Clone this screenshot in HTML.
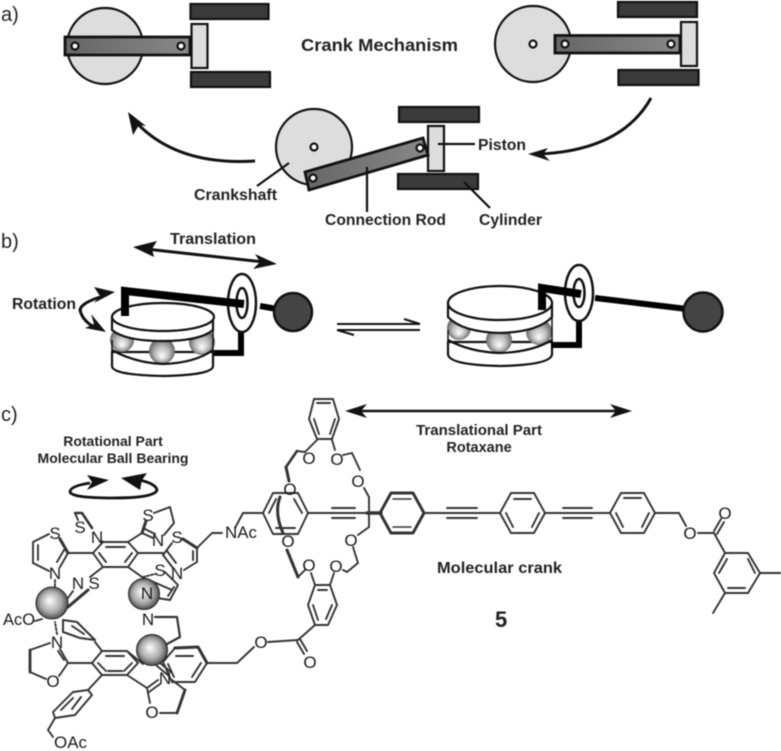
<!DOCTYPE html>
<html><head><meta charset="utf-8"><style>
html,body{margin:0;padding:0;background:#fff}
svg{display:block;filter:blur(.55px)}
text{font-family:"Liberation Sans",sans-serif;font-weight:700;fill:#222;font-size:16px}
.r{font-weight:400;font-size:20px}
.m{font-size:17px;font-weight:400;fill:#1a1a1a;text-anchor:middle}
.l{font-size:17px;font-weight:400;fill:#1a1a1a}
</style></head><body>
<svg width="781" height="751" viewBox="0 0 781 751" xmlns="http://www.w3.org/2000/svg">
<defs>
<linearGradient id="rod" x1="0" x2="1" y1="0" y2="0"><stop offset="0" stop-color="#666"/><stop offset="1" stop-color="#888"/></linearGradient>
<radialGradient id="b1" cx=".5" cy=".5" r=".55" fx=".5" fy=".72"><stop offset="0" stop-color="#fff"/><stop offset=".5" stop-color="#bbb"/><stop offset="1" stop-color="#555"/></radialGradient>
<radialGradient id="b2" cx=".5" cy=".5" r=".6" fx=".42" fy=".42"><stop offset="0" stop-color="#fff"/><stop offset=".55" stop-color="#aaa"/><stop offset="1" stop-color="#222"/></radialGradient>
</defs>

<!-- panel a -->
<text class="r" x="1" y="21">a)</text>
<text class="r" x="1" y="248">b)</text>
<text class="r" x="1" y="421">c)</text>
<g stroke="#111" stroke-width="2.2">
<circle cx="105" cy="46" r="38" fill="#ddd"/>
<rect x="190.500" y="4" width="78" height="15" fill="#3b3b3b"/>
<rect x="191" y="72" width="79" height="15" fill="#3b3b3b"/>
<rect x="191.500" y="24" width="16" height="44" fill="#ddd"/>
<rect x="65" y="37" width="125" height="18" fill="url(#rod)" stroke-width="2.800"/>
<circle cx="75" cy="46" r="3.500" fill="#fff"/><circle cx="181" cy="46" r="3.500" fill="#fff"/>

<circle cx="533" cy="44" r="38" fill="#ddd"/>
<rect x="618" y="2" width="79" height="15" fill="#3b3b3b"/>
<rect x="618.500" y="70" width="80" height="15" fill="#3b3b3b"/>
<rect x="681" y="22" width="16" height="44" fill="#ddd"/>
<rect x="555" y="35.500" width="125" height="17.500" fill="url(#rod)" stroke-width="2.800"/>
<circle cx="533" cy="44" r="3.500" fill="#fff"/><circle cx="565" cy="44" r="3.500" fill="#fff"/><circle cx="671" cy="44" r="3.500" fill="#fff"/>

<circle cx="314" cy="147" r="38" fill="#ddd"/>
<rect x="399" y="107" width="80" height="15" fill="#3b3b3b"/>
<rect x="398" y="174" width="80" height="15" fill="#3b3b3b"/>
<rect x="428" y="126" width="16" height="45" fill="#ddd"/>
<polygon points="305,172 423,138 428,155 309,190" fill="url(#rod)" stroke-width="2.800"/>
<circle cx="314" cy="147" r="3.500" fill="#fff"/><circle cx="313" cy="178" r="3.500" fill="#fff"/><circle cx="420" cy="148" r="3.500" fill="#fff"/>
</g>
<g stroke="#111" stroke-width="2.200" fill="none">
<path d="M257,186 L289,163"/><path d="M367,167 L367,212"/><path d="M438,144 L475,144"/><path d="M464,182 L490,208"/>
<path stroke-width="3" d="M255,161 Q175,166 134,120"/>
<path stroke-width="3" d="M651,98 Q622,150 540,154"/>
</g>
<polygon points="128,112 146,126 139,125 133,135" fill="#111"/>
<polygon points="528,154 548,148 543,154 550,161" fill="#111"/>
<text x="301" y="51" style="font-size:17.500px" textLength="157" lengthAdjust="spacingAndGlyphs">Crank Mechanism</text>
<text x="478" y="150" textLength="48" lengthAdjust="spacingAndGlyphs">Piston</text>
<text x="194" y="200" textLength="83" lengthAdjust="spacingAndGlyphs">Crankshaft</text>
<text x="325" y="225" textLength="121" lengthAdjust="spacingAndGlyphs">Connection Rod</text>
<text x="479" y="225" textLength="63" lengthAdjust="spacingAndGlyphs">Cylinder</text>

<!-- panel b -->
<text x="170" y="244" textLength="86" lengthAdjust="spacingAndGlyphs">Translation</text>
<text x="12" y="309" textLength="64" lengthAdjust="spacingAndGlyphs">Rotation</text>
<g stroke="#111" stroke-width="3" fill="none">
<path d="M146,249 L264,262"/>
<path d="M100,297 Q76,305 81,313"/><path d="M81,313 Q84,322 96,328"/>
</g>
<polygon points="133,247 157,241 152,249 154,257" fill="#111"/>
<polygon points="277,264 255,254 260,262 253,269" fill="#111"/>
<polygon points="115,292 94,287 100,296 94,303" fill="#111"/>
<polygon points="106,332 85,328 94,324 91,314" fill="#111"/>

<!-- left bearing -->
<g stroke="#111" stroke-width="2.200">
<path d="M112,352 V366 Q112,375 163,376 Q213,375 213,366 V352 Z" fill="#fff"/>
<circle cx="122" cy="340" r="12" fill="url(#b1)" stroke="none"/><circle cx="202" cy="342" r="13" fill="url(#b1)" stroke="none"/><circle cx="162" cy="351" r="13" fill="url(#b1)" stroke="none"/>
<path d="M112,350 Q135,363 163,364 Q195,363 213,350" fill="none"/>
<path d="M112,317 V330 Q125,341 163,341 Q200,341 213,330 V317 Z" fill="#fff"/>
<ellipse cx="163" cy="317" rx="51" ry="14" fill="#fff"/>
<path d="M112,340 V366 M213,330 V366" fill="none" stroke-width="1.500"/>
</g>
<g fill="none" stroke="#000">
<path d="M241,332 V353 H214" stroke-width="6"/>
<ellipse cx="242" cy="303" rx="14" ry="29" fill="#fff" stroke="#111" stroke-width="2.500"/>
<ellipse cx="242" cy="303" rx="5.500" ry="15" fill="#fff" stroke="#111" stroke-width="2.500"/>
<path d="M125,316 V291 L244,304" stroke-width="8"/>
<path d="M260,306 L277,309" stroke-width="6"/>
</g>
<circle cx="293" cy="312" r="19" fill="#444" stroke="#111" stroke-width="2.500"/>

<!-- equilibrium -->
<g stroke="#111" stroke-width="2" fill="none">
<path d="M337,324 H420"/><path d="M337,330 H420"/>
</g>
<path d="M404,319 L420,324" stroke="#111" stroke-width="2"/>
<path d="M354,335 L337,330" stroke="#111" stroke-width="2"/>

<!-- right bearing -->
<g stroke="#111" stroke-width="2.200">
<path d="M448,342 V354 Q448,365 500,366 Q552,365 552,354 V342 Z" fill="#fff"/>
<circle cx="459" cy="328" r="12" fill="url(#b1)" stroke="none"/><circle cx="539" cy="332" r="13" fill="url(#b1)" stroke="none"/><circle cx="499" cy="340" r="13" fill="url(#b1)" stroke="none"/>
<path d="M448,340 Q470,352 500,353 Q532,352 552,340" fill="none"/>
<path d="M448,303 V317 Q462,332 500,333 Q538,332 552,317 V303 Z" fill="#fff"/>
<ellipse cx="500" cy="303" rx="52" ry="17" fill="#fff"/>
<path d="M448,330 V354 M552,317 V354" fill="none" stroke-width="1.500"/>
</g>
<g fill="none" stroke="#000">
<path d="M579,322 V345 H551" stroke-width="6"/>
<ellipse cx="579" cy="293" rx="14" ry="28" fill="#fff" stroke="#111" stroke-width="2.500"/>
<ellipse cx="579" cy="293" rx="5.500" ry="14" fill="#fff" stroke="#111" stroke-width="2.500"/>
<path d="M542,310 V288 L581,294" stroke-width="8"/>
<path d="M595,298 L687,309" stroke-width="6"/>
</g>
<circle cx="703" cy="312" r="19.500" fill="#444" stroke="#111" stroke-width="2.500"/>

<!-- panel c labels -->
<path d="M358,411 H620" stroke="#111" stroke-width="2.500"/>
<polygon points="345,411 367,404 361,411 367,418" fill="#111"/>
<polygon points="632,411 610,404 616,411 610,418" fill="#111"/>
<text x="479" y="435" text-anchor="middle" style="font-size:15px">Translational Part</text>
<text x="479" y="452" text-anchor="middle" style="font-size:14.500px">Rotaxane</text>
<text x="113" y="446" text-anchor="middle" style="font-size:14px">Rotational Part</text>
<text x="113" y="463" text-anchor="middle" style="font-size:14px">Molecular Ball Bearing</text>
<text x="437" y="573" textLength="125" lengthAdjust="spacingAndGlyphs">Molecular crank</text>
<text x="495" y="627" style="font-size:22px">5</text>
<g fill="none" stroke="#111" stroke-width="2.800">
<path d="M90,483 Q70,486 70,492 Q72,498 113,498 Q155,498 157,490 Q156,484 140,480"/>
</g>
<polygon points="109,480 87,475 92,482 87,490" fill="#111"/>
<polygon points="121,478 147,473 142,480 140,490" fill="#111"/>

<!-- molecule: bonds -->
<g fill="none" stroke="#333" stroke-width="1.900" stroke-linejoin="round" stroke-linecap="round">
<!-- top catechol -->
<path d="M314,399 H333 L339,419 L332,439 H317 L309,419 Z"/>
<path d="M317,403 H330 M314,419 L319,434 M335,419 L330,434"/>
<path d="M317,440 L305,452 M332,440 L335,450"/>
<path d="M305,452 L297,451"/><path d="M297,451 L286,467" stroke-width="2.600"/><path d="M286,467 L289,481" stroke-width="3"/>
<path d="M343,455 L352,453 L360,470"/><path d="M364,488 L369,497 V527 L358,535"/>
<!-- central ring -->
<path d="M263,513 L273,493 H298 L308,513 L298,534 H273 Z"/>
<path d="M269,513 L276,499 M294,499 L302,513 M276,528 H295"/>
<path d="M280,497 Q274,513 283,533" stroke-width="3"/>
<path d="M263,513 H243 L235,528"/>
<path d="M308,513 H367"/><path d="M332,508 H355 M332,518 H355"/>
<path d="M367,513 H381" stroke-width="3.400"/>
<!-- right macrocycle side -->
<path d="M353,547 L358,563 L347,572 L343,570"/>
<!-- left lower -->
<path d="M287,550 L298,577" stroke-width="3"/><path d="M298,577 L305,570"/>
<!-- lower catechol -->
<path d="M315,585 H330 L337,605 L328,625 H315 L308,605 Z"/>
<path d="M318,590 H327 M313,605 L318,620 M332,605 L326,619"/>
<path d="M311,573 L315,585 M334,573 L330,585"/>
<path d="M315,625 L298,640"/><path d="M298,640 L268,642"/><path d="M297,642 L304,654 M300,639 L307,651"/>
<path d="M254,647 L237,663 H208"/>
<!-- thick ring -->
<path d="M380,513 L391,493 H413 L424,513 L413,533 H391 Z" stroke-width="2.900"/>
<path d="M393,499 H411 M393,527 H411" stroke-width="1.500"/>
<!-- triple + ring 2 -->
<path d="M424,513 H500"/><path d="M447,508 H477 M447,518 H477"/>
<path d="M500,513 L511,493 H534 L545,513 L534,533 H511 Z"/><path d="M514,499 H531 M506,513 L513,527 M539,513 L532,527"/>
<path d="M545,513 H610"/><path d="M563,508 H592 M563,518 H592"/>
<path d="M610,513 L621,493 H644 L655,513 L644,533 H621 Z"/><path d="M624,498 H641 M616,513 L623,527 M649,513 L642,527"/>
<path d="M655,513 H679 L686,526"/><path d="M698,533 H714"/>
<path d="M714,531 L721,519 M717,534 L724,522"/>
<path d="M714,533 L725,553"/>
<path d="M725,553 H748 L760,573 L748,593 H725 L714,573 Z"/>
<path d="M727,559 L719,573 M748,559 L755,573 M728,588 H745"/>
<path d="M760,573 H781 M725,593 L713,613"/>
<!-- upper central benzene -->
<path d="M93,553 L103,542 H128 L138,553 L128,567 H103 Z"/>
<path d="M106,547 H125 M99,553 L106,562 M132,553 L125,562"/>
<path d="M93,553 H68"/><path d="M68,553 L60,539" stroke-width="3"/><path d="M49,534 L33,542 V563 L49,571"/>
<path d="M38,545 V560"/><path d="M68,553 L60,567 M64,550 L57,562"/>
<path d="M103,542 L102,541"/>
<path d="M75,513 H82 L92,528" stroke-width="2.500"/><path d="M75,513 L78,520"/>
<path d="M128,542 L142,533"/><path d="M142,533 L146,521" stroke-width="3"/>
<path d="M154,513 L170,507 L174,523 L164,535"/><path d="M142,533 L153,538 M145,529 L155,534"/>
<path d="M138,553 H163"/><path d="M163,555 L172,543"/><path d="M163,555 L173,568 M167,551 L176,563"/>
<path d="M183,539 L197,548" stroke-width="3"/><path d="M197,548 V562 L184,570"/><path d="M193,551 V560"/>
<path d="M197,548 L212,533 H222"/>
<path d="M128,567 L142,577"/><path d="M143,577 L155,574" stroke-dasharray="2 2"/>
<path d="M165,572 L178,585 L170,600 L157,598"/><path d="M174,587 L168,596"/><path d="M142,577 L172,590" stroke-width="2"/>
<path d="M103,567 L90,577"/>
<path d="M88,590 L68,607" stroke-width="3"/><path d="M73,591 L68,598"/>
<path d="M55,580 V588" stroke-dasharray="2 2"/>
<!-- lower benzene -->
<path d="M92,663 L102,651 H127 L138,663 L127,675 H102 Z"/>
<path d="M106,656 H124 M98,663 L106,671 M132,663 L124,671 M108,671 H122"/>
<path d="M63,620 L77,622 L95,640 L80,638 L63,632 Z" stroke-width="2"/><path d="M72,626 L84,634"/>
<path d="M102,651 L95,642"/>
<path d="M92,663 H68"/><path d="M68,663 L60,649 M64,660 L58,651"/>
<path d="M50,643 L30,650"/><path d="M30,650 L30,672" stroke-width="2.800"/><path d="M30,672 L46,679"/><path d="M68,663 L59,676"/>
<path d="M57,634 L55,622" stroke-dasharray="2 2"/>
<path d="M102,675 L88,690"/><path d="M88,690 L92,695 L75,715 L55,718 L53,712 L73,692 Z"/><path d="M73,698 L61,710 M81,697 L72,709"/>
<path d="M55,718 L48,730 L53,737"/>
<path d="M127,675 L147,688"/><path d="M147,688 L158,680 M149,692 L160,684"/><path d="M172,680 L185,690"/><path d="M185,690 L177,713" stroke-width="2.800"/><path d="M177,713 H160"/><path d="M147,688 L150,703"/>
<path d="M155,617 H177 L180,637 L167,644" stroke-width="2.200"/>
<path d="M127,651 L143,664"/>
<path d="M175,648 L198,647 L207,663 L195,682 H172 L163,662 Z"/>
<path d="M175,648 L198,647 L207,663" stroke-width="3"/>
<path d="M176,656 H193 M201,663 L192,677 M168,664 L174,677"/>
<path d="M160,663 L172,673 M157,666 L169,676"/>
<path d="M35,621 L42,619"/>
</g>
<!-- molecule: balls -->
<circle cx="52" cy="603" r="16" fill="url(#b2)" stroke="#222"/>
<circle cx="144" cy="594" r="15.500" fill="url(#b2)" stroke="#222"/>
<circle cx="152" cy="650" r="15.500" fill="url(#b2)" stroke="#222"/>
<!-- molecule: atoms -->
<g>
<text class="m" x="309" y="464">O</text><text class="m" x="337" y="465">O</text>
<text class="m" x="358" y="487">O</text><text class="m" x="290" y="495">O</text>
<text class="m" x="288" y="547">O</text><text class="m" x="351" y="546">O</text>
<text class="m" x="309" y="571">O</text><text class="m" x="336" y="572">O</text>
<text class="m" x="310" y="668">O</text><text class="m" x="261" y="648">O</text>
<text class="m" x="690" y="539">O</text><text class="m" x="725" y="519">O</text>
<text class="m" x="55" y="539">S</text><text class="m" x="55" y="579">N</text>
<text class="m" x="80" y="533">S</text><text class="m" x="97" y="543">N</text>
<text class="m" x="148" y="521">S</text><text class="m" x="158" y="546">N</text>
<text class="m" x="177" y="543">S</text><text class="m" x="177" y="579">N</text>
<text class="m" x="160" y="576">S</text><text class="m" x="147" y="599">N</text>
<text class="m" x="78" y="589">N</text><text class="m" x="94" y="589">S</text>
<text class="m" x="148" y="625">N</text><text class="m" x="57" y="648">N</text>
<text class="m" x="165" y="684">N</text>
<text class="m" x="53" y="687">O</text><text class="m" x="152" y="718">O</text>
<text class="l" x="225" y="538" textLength="32" lengthAdjust="spacingAndGlyphs">NAc</text>
<text class="l" x="3" y="625" textLength="32" lengthAdjust="spacingAndGlyphs">AcO</text>
<text class="l" x="54" y="748" textLength="33" lengthAdjust="spacingAndGlyphs">OAc</text>
</g>
</svg>
</body></html>
